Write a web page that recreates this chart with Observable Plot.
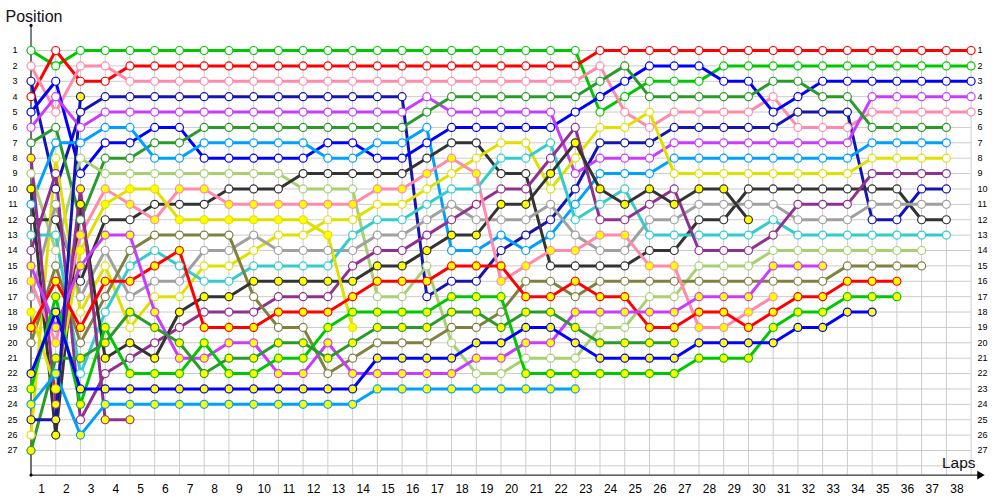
<!DOCTYPE html>
<html>
<head>
<meta charset="utf-8">
<script src="https://cdn.jsdelivr.net/npm/d3@7"></script>
<script src="https://cdn.jsdelivr.net/npm/@observablehq/plot@0.6"></script>
<style>
  html, body { margin: 0; padding: 0; background: #ffffff; }
  #chart svg { display: block; }
</style>
</head>
<body>
<div id="chart"></div>
<script>
// ---- tick labels / grid categories ----
const lapTicks = [1,2,3,4,5,6,7,8,9,10,11,12,13,14,15,16,17,18,19,20,21,22,23,24,25,26,27,28,29,30,31,32,33,34,35,36,37,38];
const gridLaps = [0,1,2,3,4,5,6,7,8,9,10,11,12,13,14,15,16,17,18,19,20,21,22,23,24,25,26,27,28,29,30,31,32,33,34,35,36,37,38];
const positionTicks = [1,2,3,4,5,6,7,8,9,10,11,12,13,14,15,16,17,18,19,20,21,22,23,24,25,26,27];
const gridPositions = [1,2,3,4,5,6,7,8,9,10,11,12,13,14,15,16,17,18,19,20,21,22,23,24,25,26,27,28];

// ---- drivers (line colour + marker fill) ----
const drivers = ["Green A","Red A","Pink A","Navy A","Blue A","Violet A","Forest A","Sky A","Lime A","Charcoal A","Yellow A","Grey A","Cyan A","Plum A","Olive A",
                 "Charcoal B","Pink B","Yellow B","Plum B","Red B","Violet B","Green B","Forest B","Blue B","Sky B","Navy B"];
const lineColors = ["#00c800","#ff0000","#ff8aaa","#1414b4","#0000ff","#c83cff","#2a9a2a","#00a0ff","#a8d070","#333333","#e0e000","#a0a0a0","#33cccc","#903090","#808040",
                    "#333333","#ff8aaa","#e0e000","#903090","#ff0000","#c83cff","#00c800","#2a9a2a","#0000ff","#00a0ff","#1414b4"];
const markerFills = ["#ffffff","#ffffff","#ffffff","#ffffff","#ffffff","#ffffff","#ffffff","#ffffff","#ffffff","#ffffff","#ffffff","#ffffff","#ffffff","#ffffff","#ffffff",
                     "#ffff00","#ffff00","#ffff00","#ffff00","#ffff00","#ffff00","#ffff00","#ffff00","#ffff00","#ffff00","#ffff00"];

// ---- positions, index = lap (0 = grid) ----
const greenA    = [1,2,1,1,1,1,1,1,1,1, 1,1,1,1,1,1,1,1,1,1, 1,1,1,5,4,3,3,3,2,2, 2,2,2,2,2,2,2,2,2];
const redA      = [4,1,3,3,2,2,2,2,2,2, 2,2,2,2,2,2,2,2,2,2, 2,2,2,1,1,1,1,1,1,1, 1,1,1,1,1,1,1,1,1];
const pinkA     = [2,5,2,2,3,3,3,3,3,3, 3,3,3,3,3,3,3,3,3,3, 3,3,3,2,5,6,5,5,5,5, 4,6,6,6,5,5,5,5,5];
const navyA     = [3,10,5,4,4,4,4,4,4,4, 4,4,4,4,4,4,17,16,16,14, 13,12,10,7,7,7,6,6,6,6, 6,5,5,5,12,12,10,10];
const blueA     = [5,3,9,7,7,6,6,8,8,8, 8,8,7,7,8,8,7,6,6,6, 6,6,5,4,3,2,2,2,3,3, 5,4,3,3,3,3,3,3,3];
const violetA   = [6,4,6,5,5,5,5,5,5,5, 5,5,5,5,5,5,4,5,5,5, 5,5,9,8,8,8,7,7,7,7, 7,7,7,7,4,4,4,4,4];
const forestA   = [7,6,12,8,8,7,7,6,6,6, 6,6,6,6,6,6,5,4,4,4, 4,4,4,3,2,4,4,4,4,4, 3,3,4,4,6,6,6,6];
const skyA      = [11,7,7,6,6,8,8,7,7,7, 7,7,8,8,7,7,6,14,14,13, 14,13,11,9,9,9,8,8,8,8, 8,8,8,8,7,7,7,7];
const limeA     = [9,14,8,9,9,9,9,9,9,9, 9,10,10,10,17,17,15,20,22,22, 21,21,21,19,19,17,17,15,15,15, 14,14,14,14,14,14,14];
const charcoalA = [12,12,16,12,12,11,11,11,10,10, 10,9,9,9,9,9,8,7,7,9, 9,15,15,15,15,14,14,12,12,10, 10,10,10,10,10,10,12,12];
const yellowA   = [26,8,18,15,19,17,17,15,15,14, 13,13,12,12,11,11,10,9,8,7, 7,10,8,6,6,5,9,9,9,9, 9,9,9,9,8,8,8,8];
const greyA     = [17,11,17,14,17,16,16,14,14,13, 14,14,14,14,13,13,12,11,12,12, 12,11,13,14,14,12,12,11,11,11, 11,12,12,12,11,11,11,11];
const cyanA     = [13,13,22,18,15,14,15,16,16,15, 15,15,15,13,12,12,11,10,10,8, 8,7,12,11,10,13,13,13,13,13, 12,13,13,13,13,13,13,13];
const plumA     = [14,9,25,22,21,20,19,18,18,18, 17,17,17,15,14,14,13,12,11,10, 10,8,6,12,12,11,10,14,14,14, 13,11,11,11,9,9,9,9];
const oliveA    = [20,15,20,17,14,13,13,13,13,17, 19,19,22,21,20,20,20,19,19,18, 16,16,17,16,16,16,16,16,16,16, 16,16,16,15,15,15,15];
const charcoalB = [10,26,11,21,20,21,18,17,17,16, 16,16,16,16,15,15,14,13,13,11, 11,9,7,10,11,10,11,10,10,12];
const pinkB     = [16,20,13,10,11,12,10,10,11,11, 11,11,11,11,10,10,9,8,9,16, 15,14,14,13,13,15,15,19,19,18, 17];
const yellowB   = [18,23,14,11,10,10,12,12,12,12, 12,12,13,19];
const plumB     = [8,24,10,25,25];
const redB      = [19,16,19,16,16,15,14,19,19,19, 18,18,18,17,16,16,16,15,15,15, 17,17,16,17,17,19,19,18,18,19, 18,17,17,16,16,16];
const violetB   = [15,19,15,13,13,18,21,21,20,20, 22,22,20,22,22,22,22,22,21,21, 20,20,18,18,18,18,18,17,17,17, 15,15,15];
const greenB    = [23,17,24,19,22,22,22,20,22,22, 21,21,19,18,18,18,18,17,17,17, 22,22,22,22,22,22,22,21,21,21, 19,18,18,17,17,17];
const forestB   = [27,21,21,20,18,19,20,22,21,21, 20,20,21,20,19,19,19,18,18,19, 18,18,19,20,20,20,20];
const blueB     = [22,18,23,23,23,23,23,23,23,23, 23,23,23,23,21,21,21,21,20,20, 19,19,20,21,21,21,21,20,20,20, 20,19,19,18,18];
const skyB      = [24,22,26,24,24,24,24,24,24,24, 24,24,24,24,23,23,23,23,23,23, 23,23,23];
const navyB     = [25,25,4];

const series = [greenA, redA, pinkA, navyA, blueA, violetA, forestA, skyA, limeA, charcoalA, yellowA, greyA, cyanA, plumA, oliveA,
                charcoalB, pinkB, yellowB, plumB, redB, violetB, greenB, forestB, blueB, skyB, navyB];

// long table built from the arrays
const rows = [];
drivers.forEach((name, i) => {
  series[i].forEach((pos, lap) => rows.push({driver: name, lap, pos, fill: markerFills[i]}));
});
const whiteRows = rows.filter(d => d.fill === "#ffffff");
const yellowRows = rows.filter(d => d.fill === "#ffff00");

const font = "Liberation Sans, Arial, sans-serif";

const chart = Plot.plot({
  width: 1000,
  height: 500,
  marginLeft: 30.5,
  marginRight: 29.4,
  marginTop: 50,
  marginBottom: 50,
  x: {domain: [0, 38], axis: null},
  y: {domain: [1, 27], reverse: true, axis: null},
  color: {domain: drivers, range: lineColors},
  style: {fontFamily: font, background: "#ffffff", color: "#000000"},
  marks: [
    // grid
    Plot.ruleX(gridLaps, {x: d => d, y1: 0.8, y2: 28.6, stroke: "#cccccc", strokeWidth: 1}),
    Plot.ruleY(gridPositions, {y: d => d, x1: 0, x2: 38, stroke: "#cccccc", strokeWidth: 1}),
    // axes
    Plot.axisY(positionTicks, {anchor: "left", label: null, tickSize: 0, tickPadding: 13.5, fontSize: 9, fill: "#000"}),
    Plot.axisY(positionTicks, {anchor: "right", label: null, tickSize: 0, tickPadding: 6.5, fontSize: 9, fill: "#000"}),
    Plot.axisX(lapTicks, {anchor: "bottom", label: null, tickSize: 0, tickPadding: 34, dx: -14.2, fontSize: 12, fill: "#000"}),
    Plot.ruleX([0], {y1: -0.63, y2: 28.6, stroke: "#000", strokeWidth: 1}),
    Plot.ruleY([28.6], {x1: 0, x2: 38.4, stroke: "#000", strokeWidth: 1}),
    Plot.dot([[0, -0.63], [0, 28.6]], {x: d => d[0], y: d => d[1], r: 1.6, fill: "#000", stroke: null}),
    Plot.dot([[38.35, 28.6]], {x: d => d[0], y: d => d[1], symbol: "triangle", rotate: 90, r: 3.2, fill: "#000", stroke: null}),
    Plot.text(["Position"], {frameAnchor: "top-left", dx: -25.5, dy: -34, textAnchor: "start", lineAnchor: "middle", fontSize: 16, fill: "#111"}),
    Plot.text(["Laps"], {frameAnchor: "bottom-right", dx: 4.5, dy: 13, textAnchor: "end", lineAnchor: "middle", fontSize: 15.5, fill: "#111"}),
    // race lines
    Plot.line(rows, {x: "lap", y: "pos", z: "driver", stroke: "driver", strokeWidth: 3, strokeLinejoin: "round"}),
    // markers
    Plot.dot(whiteRows, {x: "lap", y: "pos", stroke: "driver", fill: "#ffffff", r: 4, strokeWidth: 1.2}),
    Plot.dot(yellowRows, {x: "lap", y: "pos", stroke: "driver", fill: "#ffff00", r: 4, strokeWidth: 1.2})
  ]
});

document.getElementById("chart").appendChild(chart);
</script>
</body>
</html>
